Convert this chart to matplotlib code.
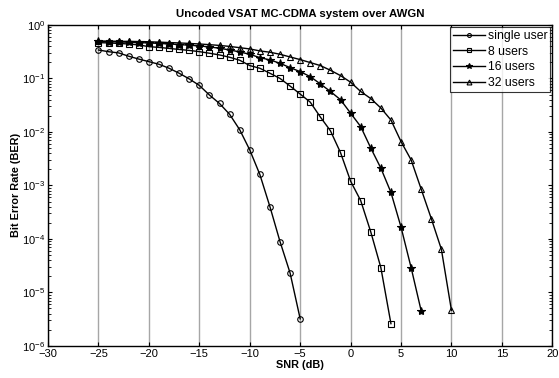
import matplotlib
matplotlib.use("Agg")
import matplotlib.pyplot as plt
from matplotlib.ticker import LogLocator, NullFormatter

plt.rcParams['font.family'] = ['Liberation Sans', 'DejaVu Sans']
plt.rcParams['mathtext.fontset'] = 'custom'
plt.rcParams['mathtext.rm'] = 'Liberation Sans'

# SNR (dB) axis for each curve
snrSingle = list(range(-25, -4))
snr8 = list(range(-25, 5))
snr16 = list(range(-25, 8))
snr32 = list(range(-25, 11))

# BER values
berSingle = [0.34, 0.316, 0.30, 0.26, 0.23, 0.206, 0.184, 0.155, 0.125, 0.098,
             0.074, 0.049, 0.034, 0.0214, 0.011, 0.0046, 0.0016, 4.0e-4, 8.9e-5,
             2.3e-5, 3.2e-6]
ber8 = [0.467, 0.461, 0.451, 0.441, 0.423, 0.393, 0.380, 0.364, 0.348, 0.334,
        0.317, 0.296, 0.275, 0.249, 0.219, 0.174, 0.155, 0.125, 0.100, 0.072,
        0.051, 0.036, 0.019, 0.0105, 0.0041, 0.0012, 5.2e-4, 1.35e-4, 2.9e-5,
        2.6e-6]
ber16 = [0.491, 0.488, 0.481, 0.475, 0.467, 0.461, 0.451, 0.441, 0.430, 0.418,
         0.405, 0.388, 0.367, 0.341, 0.313, 0.283, 0.245, 0.222, 0.192, 0.159,
         0.134, 0.108, 0.079, 0.057, 0.040, 0.0224, 0.0126, 0.0050, 0.0021,
         7.4e-4, 1.66e-4, 2.9e-5, 4.5e-6]
ber32 = [0.50, 0.498, 0.495, 0.492, 0.490, 0.485, 0.477, 0.469, 0.461, 0.451,
         0.441, 0.428, 0.414, 0.397, 0.376, 0.356, 0.327, 0.309, 0.283, 0.252,
         0.225, 0.198, 0.174, 0.142, 0.113, 0.085, 0.057, 0.042, 0.028, 0.0167,
         0.0066, 0.0030, 8.5e-4, 2.4e-4, 6.4e-5, 4.6e-6]

fig = plt.figure(figsize=(5.59, 3.78), dpi=100)
ax = fig.add_axes([0.086, 0.085, 0.902, 0.849])

ax.semilogy(snrSingle, berSingle, 'k-o', mfc='none', ms=4, lw=1, mew=0.8, label='single user')
ax.semilogy(snr8, ber8, 'k-s', mfc='none', ms=4, lw=1, mew=0.8, label='8 users')
ax.semilogy(snr16, ber16, 'k-*', mfc='k', ms=6, lw=1, mew=0.8, label='16 users')
ax.semilogy(snr32, ber32, 'k-^', mfc='none', ms=5, lw=1, mew=0.8, label='32 users')

ax.set_xlim(-30, 20)
ax.set_ylim(1e-6, 1)
ax.set_xticks(range(-30, 21, 5))
ax.yaxis.set_major_locator(LogLocator(base=10, numticks=10))
ax.yaxis.set_minor_locator(LogLocator(base=10, subs=range(2, 10), numticks=20))
ax.yaxis.set_minor_formatter(NullFormatter())
ax.xaxis.grid(True, color='#a6a6a6', lw=1)
ax.tick_params(which='both', direction='in', top=True, right=True, labelsize=8)
ax.tick_params(which='major', length=3, pad=2)
ax.tick_params(which='minor', length=2)
for s in ax.spines.values():
    s.set_linewidth(1)

ax.set_title('Uncoded VSAT MC-CDMA system over AWGN', fontsize=8.2, fontweight='bold', pad=6)
ax.set_xlabel('SNR (dB)', fontsize=7.8, fontweight='bold', labelpad=1)
ax.set_ylabel('Bit Error Rate (BER)', fontsize=7.8, fontweight='bold', labelpad=1)

leg = ax.legend(loc='upper right', fontsize=8.8, fancybox=False, edgecolor='k',
                borderaxespad=0.15, handlelength=2.6, labelspacing=0.3,
                borderpad=0.25, handletextpad=0.25, markerscale=0.7)
leg.get_frame().set_linewidth(0.8)

fig.savefig('out.png', dpi=100)
